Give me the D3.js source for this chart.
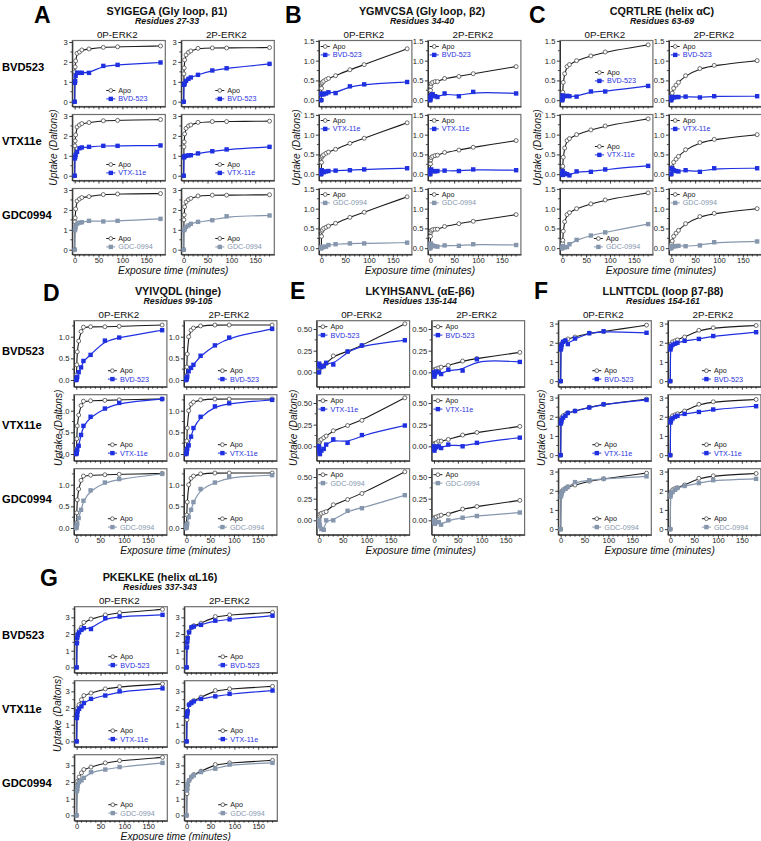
<!DOCTYPE html>
<html><head><meta charset="utf-8">
<script src="https://cdn.jsdelivr.net/npm/d3@7"></script>
<style>body{margin:0;background:#fff}svg{display:block}</style>
</head><body>
<svg id="chart" width="761" height="841"></svg>
<script>
// ---------------- DATA ----------------
const TIMES = [0, 0.5, 1, 2, 5, 10, 15, 30, 60, 90, 180];
const X_TICKS = [0, 50, 100, 150];
const STATES = ["0P-ERK2", "2P-ERK2"];
const LIGANDS = ["BVD523", "VTX11e", "GDC0994"];
const LIGAND_NAMES = ["BVD-523", "VTX-11e", "GDC-0994"];
const APO_NAME = "Apo";
const PANEL_LETTERS = ["A", "B", "C", "D", "E", "F", "G"];
const PANEL_TITLES = ["SYIGEGA (Gly loop, β1)", "YGMVCSA (Gly loop, β2)", "CQRTLRE (helix αC)",
  "VYIVQDL (hinge)", "LKYIHSANVL (αE-β6)", "LLNTTCDL (loop β7-β8)", "PKEKLKE (helix αL16)"];
const PANEL_RESIDUES = ["Residues 27-33", "Residues 34-40", "Residues 63-69",
  "Residues 99-105", "Residues 135-144", "Residues 154-161", "Residues 337-343"];
const X_TITLE = "Exposure time (minutes)";
const Y_TITLE = "Uptake (Daltons)";

const Y_TICKS_A = [0, 1, 2, 3];
const Y_TICKS_B = [0, 0.5, 1, 1.5];
const Y_TICKS_C = [0, 0.5, 1, 1.5];
const Y_TICKS_D = [0, 0.5, 1];
const Y_TICKS_E = [0, 0.25, 0.5];
const Y_TICKS_F = [0, 1, 2, 3];
const Y_TICKS_G = [0, 1, 2, 3];

// order of lists: BVD 0P, BVD 2P, VTX 0P, VTX 2P, GDC 0P, GDC 2P
const A_APO = [
  [0, 1.5, 1.75, 2.05, 2.43, 2.5, 2.6, 2.65, 2.73, 2.76, 2.8],
  [0, 1.4, 1.7, 2.1, 2.35, 2.48, 2.55, 2.68, 2.7, 2.7, 2.72],
  [0, 1.5, 1.75, 2.05, 2.45, 2.55, 2.62, 2.67, 2.76, 2.78, 2.82],
  [0, 1.45, 1.7, 2.1, 2.38, 2.5, 2.55, 2.68, 2.72, 2.72, 2.74],
  [0, 1.4, 1.6, 2.05, 2.45, 2.55, 2.62, 2.67, 2.77, 2.8, 2.82],
  [0, 1.5, 1.75, 2.15, 2.4, 2.52, 2.58, 2.7, 2.74, 2.74, 2.76]];
const A_LIG = [
  [0, 0.95, 1.05, 1.3, 1.45, 1.45, 1.45, 1.45, 1.8, 1.85, 1.97],
  [0, 0.85, 0.88, 0.92, 1.05, 1.15, 1.22, 1.35, 1.57, 1.68, 1.9],
  [0, 0.87, 0.95, 1.05, 1.2, 1.38, 1.42, 1.45, 1.5, 1.5, 1.52],
  [0, 0.92, 0.95, 0.98, 1.0, 1.02, 1.03, 1.12, 1.23, 1.32, 1.45],
  [0, 0.98, 1.05, 1.15, 1.3, 1.36, 1.38, 1.45, 1.42, 1.45, 1.55],
  [0, 0.98, 1.0, 1.05, 1.15, 1.22, 1.3, 1.4, 1.48, 1.68, 1.72]];

const B_APO = [
  [0, 0.3, 0.42, 0.45, 0.48, 0.52, 0.55, 0.62, 0.77, 0.9, 1.3],
  [0, 0.25, 0.35, 0.42, 0.45, 0.47, 0.47, 0.55, 0.6, 0.67, 0.85],
  [0, 0.3, 0.43, 0.46, 0.49, 0.53, 0.56, 0.63, 0.78, 0.91, 1.3],
  [0, 0.26, 0.36, 0.42, 0.45, 0.47, 0.48, 0.55, 0.61, 0.68, 0.85],
  [0, 0.3, 0.43, 0.46, 0.5, 0.53, 0.56, 0.63, 0.78, 0.91, 1.3],
  [0, 0.3, 0.4, 0.45, 0.47, 0.48, 0.48, 0.55, 0.62, 0.68, 0.85]];
const B_LIG = [
  [0, 0.15, 0.17, 0.15, 0.15, 0.17, 0.2, 0.18, 0.35, 0.4, 0.46],
  [0, 0.05, 0.1, 0.13, 0.15, 0.1, 0.08, 0.17, 0.1, 0.21, 0.17],
  [0, 0.08, 0.1, 0.07, 0.05, 0.07, 0.08, 0.09, 0.1, 0.12, 0.15],
  [0, 0.08, 0.1, 0.12, 0.08, 0.07, 0.08, 0.09, 0.08, 0.12, 0.1],
  [0, 0.02, 0.03, 0.03, 0.03, 0.04, 0.08, 0.1, 0.12, 0.12, 0.14],
  [0, 0.1, 0.12, 0.08, 0.07, 0.05, 0.04, 0.07, 0.06, 0.1, 0.08]];

const C_APO = [
  [0, 0.1, 0.2, 0.45, 0.67, 0.85, 0.9, 1.0, 1.12, 1.22, 1.4],
  [0, 0.08, 0.12, 0.18, 0.3, 0.38, 0.45, 0.62, 0.8, 0.88, 1.0],
  [0, 0.1, 0.2, 0.43, 0.66, 0.85, 0.9, 1.0, 1.12, 1.22, 1.4],
  [0, 0.08, 0.13, 0.18, 0.3, 0.38, 0.45, 0.62, 0.8, 0.88, 1.0],
  [0, 0.12, 0.2, 0.43, 0.67, 0.85, 0.9, 1.0, 1.12, 1.22, 1.4],
  [0, 0.08, 0.12, 0.18, 0.3, 0.38, 0.45, 0.62, 0.8, 0.88, 1.0]];
const C_LIG = [
  [0, 0.12, 0.05, 0.1, 0.1, 0.11, 0.1, 0.09, 0.22, 0.22, 0.36],
  [0, 0.05, 0.08, 0.07, 0.07, 0.08, 0.08, 0.09, 0.07, 0.1, 0.1],
  [0, 0.08, -0.02, 0.03, 0.02, 0.0, -0.03, 0.07, 0.06, 0.12, 0.21],
  [0, 0.13, 0.15, 0.12, 0.1, 0.08, 0.07, 0.1, 0.06, 0.15, 0.15],
  [0, 0.05, 0.03, 0.03, 0.02, 0.03, 0.1, 0.21, 0.32, 0.4, 0.61],
  [0, 0.04, 0.05, 0.04, 0.05, 0.05, 0.06, 0.05, 0.07, 0.15, 0.17]];

const D_APO = [
  [0, 0.12, 0.35, 0.65, 0.9, 1.12, 1.22, 1.23, 1.23, 1.24, 1.27],
  [0, 0.1, 0.3, 0.6, 1.0, 1.15, 1.2, 1.25, 1.27, 1.27, 1.27],
  [0, 0.12, 0.35, 0.65, 0.9, 1.12, 1.22, 1.23, 1.24, 1.25, 1.27],
  [0, 0.1, 0.3, 0.6, 1.0, 1.15, 1.2, 1.25, 1.27, 1.27, 1.27],
  [0, 0.12, 0.35, 0.65, 0.9, 1.1, 1.2, 1.22, 1.23, 1.24, 1.26],
  [0, 0.1, 0.3, 0.6, 1.0, 1.15, 1.2, 1.25, 1.27, 1.27, 1.27]];
const D_LIG = [
  [0, 0.02, 0.04, 0.07, 0.18, 0.29, 0.44, 0.58, 0.91, 0.98, 1.15],
  [0, 0.03, 0.05, 0.08, 0.2, 0.28, 0.35, 0.56, 0.8, 0.98, 1.18],
  [0, 0.02, 0.05, 0.1, 0.19, 0.44, 0.65, 0.86, 1.05, 1.18, 1.27],
  [0, 0.03, 0.07, 0.12, 0.2, 0.4, 0.6, 0.86, 1.1, 1.17, 1.25],
  [0, 0.03, 0.06, 0.1, 0.23, 0.42, 0.63, 0.87, 1.05, 1.13, 1.25],
  [0, 0.03, 0.06, 0.1, 0.25, 0.42, 0.6, 0.9, 1.05, 1.18, 1.22]];

const E_APO = [
  [0, 0.03, 0.05, 0.06, 0.07, 0.08, 0.1, 0.19, 0.24, 0.31, 0.56],
  [0, 0.02, 0.03, 0.03, 0.04, 0.05, 0.06, 0.08, 0.13, 0.16, 0.23],
  [0, 0.04, 0.05, 0.07, 0.08, 0.1, 0.12, 0.18, 0.24, 0.3, 0.56],
  [0, 0.02, 0.03, 0.03, 0.04, 0.06, 0.06, 0.08, 0.13, 0.16, 0.23],
  [0, 0.03, 0.05, 0.07, 0.08, 0.09, 0.1, 0.18, 0.24, 0.31, 0.56],
  [0, 0.02, 0.03, 0.03, 0.04, 0.05, 0.06, 0.07, 0.13, 0.16, 0.23]];
const E_LIG = [
  [0, 0.1, 0.08, 0.07, 0.06, 0.07, 0.11, 0.09, 0.24, 0.31, 0.37],
  [0, -0.03, -0.05, -0.02, 0.01, 0.0, -0.02, 0.03, 0.02, 0.15, 0.12],
  [0, -0.03, -0.07, -0.09, -0.05, -0.03, 0.02, 0.08, 0.04, 0.13, 0.24],
  [0, -0.03, -0.05, -0.02, -0.01, 0.0, -0.02, 0.02, 0.0, 0.04, 0.1],
  [0, -0.07, -0.04, -0.06, -0.1, -0.11, 0.0, 0.0, 0.11, 0.14, 0.29],
  [0, -0.02, -0.03, -0.04, -0.02, -0.02, -0.05, 0.0, 0.03, 0.05, 0.09]];

const F_APO = [
  [0, 1.7, 1.85, 1.95, 2.05, 2.12, 2.2, 2.3, 2.5, 2.58, 2.92],
  [0, 1.75, 1.85, 1.95, 2.05, 2.1, 2.15, 2.3, 2.65, 2.78, 2.9],
  [0, 1.7, 1.85, 1.95, 2.05, 2.12, 2.2, 2.3, 2.5, 2.65, 2.92],
  [0, 1.75, 1.85, 1.95, 2.05, 2.1, 2.15, 2.3, 2.65, 2.78, 2.9],
  [0, 1.75, 1.85, 1.95, 2.05, 2.12, 2.2, 2.3, 2.5, 2.62, 2.92],
  [0, 1.75, 1.85, 1.95, 2.05, 2.12, 2.15, 2.3, 2.65, 2.78, 2.9]];
const F_LIG = [
  [0, 1.65, 1.8, 1.9, 2.05, 2.12, 1.93, 2.22, 2.5, 2.6, 2.52],
  [0, 1.65, 1.75, 1.82, 1.9, 1.95, 2.0, 2.1, 2.2, 2.35, 2.55],
  [0, 1.65, 1.75, 1.85, 1.95, 2.05, 2.2, 2.3, 2.48, 2.65, 2.88],
  [0, 1.7, 1.78, 1.85, 1.92, 2.0, 2.05, 2.15, 2.25, 2.38, 2.55],
  [0, 1.7, 1.8, 1.9, 2.0, 2.1, 2.2, 2.45, 2.55, 2.62, 2.75],
  [0, 1.7, 1.8, 1.9, 1.95, 2.05, 2.15, 2.25, 2.4, 2.55, 2.62]];

const G_APO = [
  [0, 1.5, 1.8, 2.0, 2.2, 2.4, 2.7, 2.9, 3.15, 3.28, 3.48],
  [0, 1.25, 1.55, 1.8, 2.15, 2.4, 2.5, 2.65, 3.05, 3.15, 3.3],
  [0, 1.5, 1.8, 2.0, 2.2, 2.5, 2.75, 2.9, 3.15, 3.28, 3.45],
  [0, 1.3, 1.6, 1.8, 2.2, 2.35, 2.45, 2.65, 3.05, 3.15, 3.3],
  [0, 1.5, 1.8, 2.05, 2.3, 2.55, 2.75, 2.9, 3.15, 3.28, 3.48],
  [0, 1.3, 1.55, 1.8, 2.1, 2.3, 2.45, 2.65, 3.05, 3.15, 3.3]];
const G_LIG = [
  [0, 1.45, 1.75, 1.95, 2.1, 2.25, 2.35, 2.3, 2.95, 3.05, 3.15],
  [0, 1.2, 1.5, 1.75, 2.1, 2.4, 2.45, 2.55, 2.8, 2.88, 3.1],
  [0, 1.4, 1.6, 1.8, 1.95, 2.1, 2.3, 2.55, 2.75, 3.0, 3.18],
  [0, 1.5, 1.7, 1.8, 2.2, 2.3, 2.4, 2.55, 2.7, 2.85, 3.05],
  [0, 1.45, 1.6, 1.75, 2.0, 2.1, 2.25, 2.6, 2.75, 2.9, 3.15],
  [0, 1.5, 1.7, 1.9, 2.1, 2.3, 2.4, 2.6, 2.8, 3.05, 3.15]];

// ---------------- LAYOUT / STYLE ----------------
const FONT = "'Liberation Sans', Arial, Helvetica, sans-serif";
const NARROW = "'Liberation Sans Narrow', 'Arial Narrow', 'Liberation Sans', Arial, sans-serif";
const APO_COLOR = "#1c1c1c";
const LIG_COLORS = ["#1f30e0", "#1f30e0", "#8596ad"];
const FW = 93, FH = 66, PITCH = 74;
const LEG_FONT = 7.2, LEG_GAP = 8.4;

const PANELS = [
  {apo: A_APO, lig: A_LIG, ticks: Y_TICKS_A, dom: [-0.24, 3.075], fmt: d3.format("d"), minor: 0.5,
   fl: 72.3, dx: 109, top: 40.5, lx: 34, ly: 23, tx: 167, yl: 53.3, rowOff: 7, leg: () => "br"},
  {apo: B_APO, lig: B_LIG, ticks: Y_TICKS_B, dom: [-0.16, 1.51], fmt: d3.format(".1f"), minor: 0.25,
   fl: 318.9, dx: 109, top: 40.5, lx: 285, ly: 22.5, tx: 422, yl: 296.7, leg: () => "tl"},
  {apo: C_APO, lig: C_LIG, ticks: Y_TICKS_C, dom: [-0.16, 1.51], fmt: d3.format(".1f"), minor: 0.25,
   fl: 559.9, dx: 109, top: 40.5, lx: 529, ly: 23, tx: 662, yl: 537.7,
   leg: (r, c) => c === 1 ? "tl" : (r === 2 ? "br" : "mr")},
  {apo: D_APO, lig: D_LIG, ticks: Y_TICKS_D, dom: [-0.155, 1.37], fmt: d3.format(".1f"), minor: 0.25,
   fl: 73.9, dx: 110, top: 320.7, lx: 43, ly: 301, tx: 178, yl: 58.3, rowOff: 3, leg: () => "br"},
  {apo: E_APO, lig: E_LIG, ticks: Y_TICKS_E, dom: [-0.166, 0.596], fmt: d3.format(".2f"), minor: 0.125,
   fl: 316.6, dx: 115, top: 320.7, lx: 290, ly: 299, tx: 420, yl: 293.3, leg: () => "tl"},
  {apo: F_APO, lig: F_LIG, ticks: Y_TICKS_F, dom: [-0.29, 3.15], fmt: d3.format("d"), minor: 0.5,
   fl: 558.3, dx: 109.6, top: 320.7, lx: 534, ly: 299, tx: 663, yl: 541.7, leg: () => "br"},
  {apo: G_APO, lig: G_LIG, ticks: Y_TICKS_G, dom: [-0.32, 3.64], fmt: d3.format("d"), minor: 0.5,
   fl: 74.3, dx: 110, top: 606.7, lx: 40, ly: 586, tx: 160, yl: 57.3, rowOff: 5, leg: () => "br"}
];

const svg = d3.select("#chart");
svg.append("rect").attr("width", 761).attr("height", 841).attr("fill", "#fff");
const x = d3.scaleLinear().domain([-5, 190]).range([0, FW]);

function styleAxis(sel) {
  sel.select(".domain").attr("stroke", "#222").attr("stroke-width", 1);
  sel.selectAll(".tick line").attr("stroke", "#222").attr("stroke-width", 0.9);
  sel.selectAll(".tick text").attr("font-family", FONT).attr("font-size", 7.6).attr("fill", "#222");
}

PANELS.forEach((P, pi) => {
  const g = svg.append("g");
  const fullMid = P.fl + (P.dx + FW) / 2;

  g.append("text").attr("x", P.lx).attr("y", P.ly).text(PANEL_LETTERS[pi])
    .attr("font-family", FONT).attr("font-weight", "bold").attr("font-size", 23).attr("fill", "#000");
  g.append("text").attr("x", P.tx).attr("y", P.top - 26).attr("text-anchor", "middle")
    .text(PANEL_TITLES[pi]).attr("font-family", NARROW).attr("font-weight", "bold")
    .attr("font-size", 10.8).attr("fill", "#111");
  g.append("text").attr("x", P.tx).attr("y", P.top - 16.3).attr("text-anchor", "middle")
    .text(PANEL_RESIDUES[pi]).attr("font-family", NARROW).attr("font-weight", "bold")
    .attr("font-style", "italic").attr("font-size", 8.8).attr("fill", "#111");

  STATES.forEach((s, c) => {
    g.append("text").attr("x", P.fl + c * P.dx + FW / 2 - 1.5).attr("y", P.top - 3)
      .attr("text-anchor", "middle").text(s).attr("font-family", FONT)
      .attr("font-size", 9.8).attr("fill", "#111");
  });

  // y title
  g.append("text").attr("transform", `translate(${P.yl},${P.top + PITCH + FH / 2}) rotate(-90)`)
    .attr("text-anchor", "middle").attr("dy", "0.35em").text(Y_TITLE)
    .attr("font-family", FONT).attr("font-style", "italic").attr("font-size", 10.2).attr("fill", "#111");
  // x title
  g.append("text").attr("x", fullMid).attr("y", P.top + 2 * PITCH + FH + 19)
    .attr("text-anchor", "middle").text(X_TITLE)
    .attr("font-family", FONT).attr("font-style", "italic").attr("font-size", 10.2).attr("fill", "#111");

  // row labels
  if (P.rowOff !== undefined) {
    LIGANDS.forEach((L, r) => {
      g.append("text").attr("x", 2).attr("y", P.top + r * PITCH + FH / 2 - P.rowOff + 4)
        .text(L).attr("font-family", FONT).attr("font-weight", "bold").attr("font-size", 11.2).attr("fill", "#000");
    });
  }

  const y = d3.scaleLinear().domain(P.dom).range([FH, 0]);
  const line = d3.line().x((d, i) => x(TIMES[i])).y(d => y(d)).curve(d3.curveBasis);
  const minorY = d3.range(0, P.dom[1] + 1e-9, P.minor).filter(v => !P.ticks.some(t => Math.abs(t - v) < 1e-9));
  const minorX = d3.range(0, 190, 10).filter(v => v % 50 !== 0);

  for (let r = 0; r < 3; r++) {
    for (let c = 0; c < 2; c++) {
      const fl = P.fl + c * P.dx, ft = P.top + r * PITCH;
      const sg = g.append("g").attr("transform", `translate(${fl},${ft})`);
      sg.append("rect").attr("width", FW).attr("height", FH).attr("fill", "none")
        .attr("stroke", "#6e6e6e").attr("stroke-width", 1.2);

      const ya = sg.append("g").call(d3.axisLeft(y).tickValues(P.ticks).tickFormat(P.fmt)
        .tickSize(3).tickSizeOuter(0).tickPadding(1.5));
      styleAxis(ya);
      sg.append("g").selectAll("line").data(minorY).join("line")
        .attr("x1", -2).attr("x2", 0).attr("y1", d => y(d)).attr("y2", d => y(d))
        .attr("stroke", "#222").attr("stroke-width", 0.8);

      const xa = sg.append("g").attr("transform", `translate(0,${FH})`)
        .call(d3.axisBottom(x).tickValues(X_TICKS).tickFormat(r === 2 ? d3.format("d") : () => "")
          .tickSize(3).tickSizeOuter(0).tickPadding(0.3));
      styleAxis(xa);
      sg.append("g").selectAll("line").data(minorX).join("line")
        .attr("x1", d => x(d)).attr("x2", d => x(d)).attr("y1", FH).attr("y2", FH + 2)
        .attr("stroke", "#222").attr("stroke-width", 0.8);

      const k = r * 2 + c;
      const apo = P.apo[k], lig = P.lig[k];
      const col = LIG_COLORS[r];
      sg.append("path").attr("d", line(apo)).attr("fill", "none").attr("stroke", APO_COLOR).attr("stroke-width", 1.1);
      sg.append("path").attr("d", line(lig)).attr("fill", "none").attr("stroke", col).attr("stroke-width", 1.2);
      sg.append("g").selectAll("circle").data(apo).join("circle")
        .attr("cx", (d, i) => x(TIMES[i])).attr("cy", d => y(d)).attr("r", 2)
        .attr("fill", "#fff").attr("stroke", "#4a4a4a").attr("stroke-width", 0.8);
      sg.append("g").selectAll("rect").data(lig).join("rect")
        .attr("x", (d, i) => x(TIMES[i]) - 2.2).attr("y", d => y(d) - 2.2)
        .attr("width", 4.4).attr("height", 4.4).attr("fill", col);

      // legend
      const mode = P.leg(r, c);
      let lx, y1;
      if (mode === "br") { lx = FW - 59; y1 = FH - 16; }
      else if (mode === "mr") { lx = FW - 58; y1 = 32; }
      else { lx = 1.8; y1 = 6; }
      const y2 = y1 + LEG_GAP;
      const lg = sg.append("g");
      lg.append("line").attr("x1", lx).attr("x2", lx + 9).attr("y1", y1).attr("y2", y1)
        .attr("stroke", APO_COLOR).attr("stroke-width", 1);
      lg.append("circle").attr("cx", lx + 4.5).attr("cy", y1).attr("r", 1.9)
        .attr("fill", "#fff").attr("stroke", "#4a4a4a").attr("stroke-width", 0.8);
      lg.append("text").attr("x", lx + 12).attr("y", y1).attr("dy", "0.35em").text(APO_NAME)
        .attr("font-family", FONT).attr("font-size", LEG_FONT).attr("fill", "#222");
      lg.append("line").attr("x1", lx).attr("x2", lx + 9).attr("y1", y2).attr("y2", y2)
        .attr("stroke", col).attr("stroke-width", 1);
      lg.append("rect").attr("x", lx + 2.3).attr("y", y2 - 2.2).attr("width", 4.4).attr("height", 4.4).attr("fill", col);
      lg.append("text").attr("x", lx + 12).attr("y", y2).attr("dy", "0.35em").text(LIGAND_NAMES[r])
        .attr("font-family", FONT).attr("font-size", LEG_FONT).attr("fill", col);
    }
  }
});
</script>
</body></html>
